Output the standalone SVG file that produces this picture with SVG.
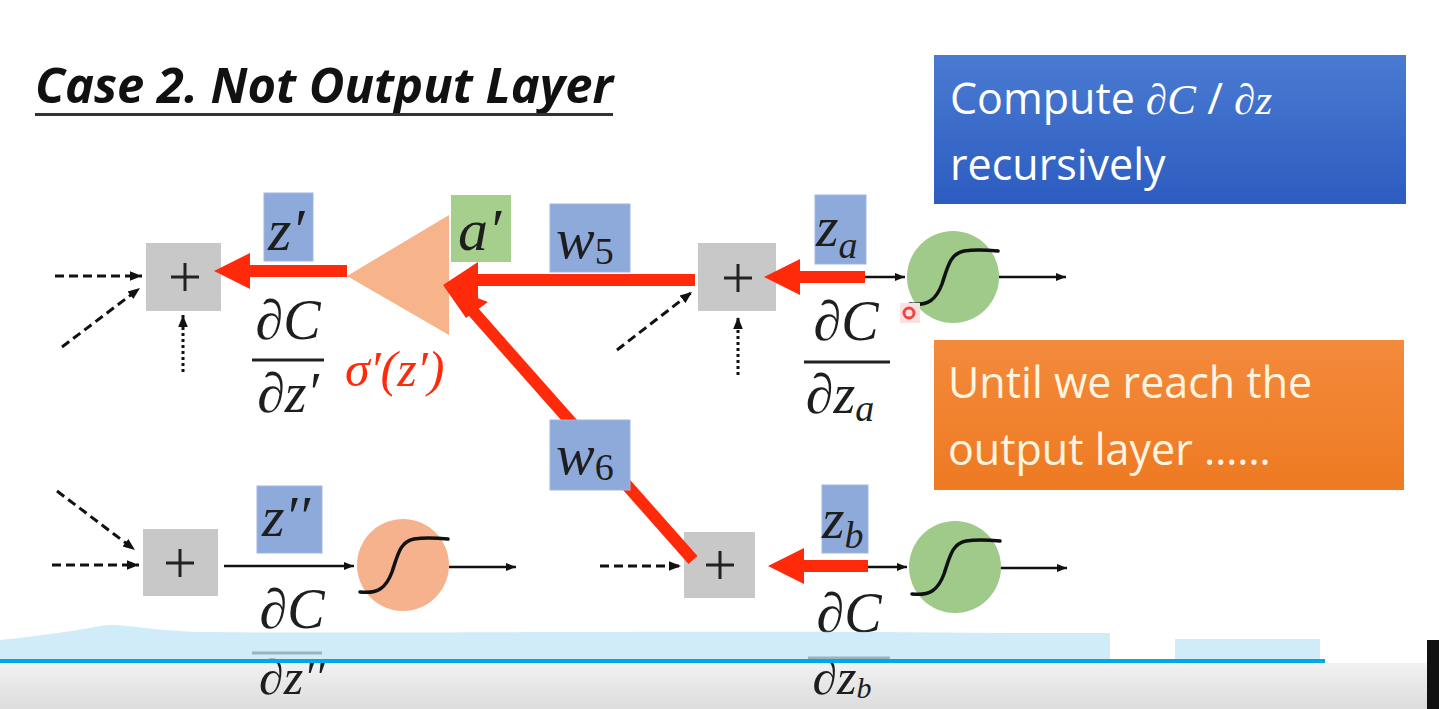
<svg xmlns="http://www.w3.org/2000/svg" width="1439" height="709" viewBox="0 0 1439 709">
<style>
.plus{fill:#c8c8c8}
.pl{stroke:#222;stroke-width:3;fill:none}
.lb{fill:#8eaadb;stroke:#9fb6e0;stroke-width:1}
.lg{fill:#a6cf8d}
.m{font-family:"Liberation Serif","DejaVu Serif",serif;font-style:italic;fill:#1e1e1e}
.s{font-family:"Liberation Serif","DejaVu Serif",serif;fill:#1e1e1e}
.dash{stroke:#111;stroke-width:3;stroke-dasharray:9 5;fill:none}
.dot{stroke:#111;stroke-width:3;stroke-dasharray:3 3;fill:none}
.blk{stroke:#111;stroke-width:2.5;fill:none}
.red{stroke:#ff2a0a;stroke-width:12;fill:none}
.sig{stroke:#111;stroke-width:3.5;fill:none;stroke-linecap:round}
.bt{font-family:"Open Sans","Noto Sans","Liberation Sans",sans-serif;fill:#fff;font-size:43px}
.frac{stroke:#222;stroke-width:3}
</style>
<defs>
<marker id="ah" viewBox="0 0 10 10" refX="10" refY="5" markerWidth="4" markerHeight="4" orient="auto" markerUnits="strokeWidth"><path d="M0,1 L10,5 L0,9 Z" fill="#111"/></marker>
<linearGradient id="gb" x1="0" y1="0" x2="0" y2="1"><stop offset="0" stop-color="#4a7bd2"/><stop offset="1" stop-color="#2c5cc0"/></linearGradient>
<linearGradient id="go" x1="0" y1="0" x2="0" y2="1"><stop offset="0" stop-color="#f38a3c"/><stop offset="1" stop-color="#ee7a22"/></linearGradient>
<linearGradient id="gbar" x1="0" y1="0" x2="0" y2="1"><stop offset="0" stop-color="#f2f2f2"/><stop offset="1" stop-color="#dcdcdc"/></linearGradient>
</defs>
<rect width="1439" height="709" fill="#fff"/>

<g id="player">
<rect x="0" y="663" width="1427" height="46" fill="url(#gbar)"/>
<rect x="1427" y="640" width="12" height="69" fill="#111"/>
</g>

<g id="title">
<text x="35" y="103" font-family="Open Sans,Noto Sans,sans-serif" font-weight="bold" font-style="italic" font-size="48" fill="#111" textLength="578" lengthAdjust="spacingAndGlyphs">Case 2. Not Output Layer</text>
<rect x="35" y="113" width="578" height="3" fill="#333"/>
</g>

<g id="connectors">
<line class="dash" x1="55" y1="276" x2="142" y2="276" marker-end="url(#ah)"/>
<line class="dash" x1="62" y1="347" x2="140" y2="288" marker-end="url(#ah)"/>
<line class="dot" x1="183" y1="372" x2="183" y2="315" marker-end="url(#ah)"/>
<line class="dash" x1="617" y1="350" x2="692" y2="292" marker-end="url(#ah)"/>
<line class="dot" x1="738" y1="375" x2="738" y2="317" marker-end="url(#ah)"/>
<line class="blk" x1="862" y1="277" x2="905" y2="277" marker-end="url(#ah)"/>
<line class="blk" x1="999" y1="277" x2="1066" y2="277" marker-end="url(#ah)"/>
<line class="dash" x1="52" y1="565" x2="139" y2="565" marker-end="url(#ah)"/>
<line class="dash" x1="57" y1="491" x2="135" y2="550" marker-end="url(#ah)"/>
<line class="blk" x1="224" y1="566" x2="354" y2="566" marker-end="url(#ah)"/>
<line class="blk" x1="449" y1="567" x2="516" y2="567" marker-end="url(#ah)"/>
<line class="dash" x1="600" y1="566" x2="681" y2="566" marker-end="url(#ah)"/>
<line class="blk" x1="866" y1="567" x2="907" y2="567" marker-end="url(#ah)"/>
<line class="blk" x1="1000" y1="568" x2="1067" y2="568" marker-end="url(#ah)"/>
</g>

<g id="plus1"><rect class="plus" x="146" y="243" width="75" height="68"/><path class="pl" d="M171,277 H199 M185,263 V291"/></g>
<g id="plus2"><rect class="plus" x="698" y="243" width="78" height="68"/><path class="pl" d="M724,278 H752 M738,264 V292"/></g>
<g id="plus3"><rect class="plus" x="143" y="529" width="75" height="67"/><path class="pl" d="M166,563 H194 M180,549 V577"/></g>
<g id="plus4"><rect class="plus" x="684" y="532" width="71" height="66"/><path class="pl" d="M706,565 H734 M720,551 V579"/></g>

<g id="triangle"><polygon points="347,276 449,215 449,335" fill="#f7b48a"/></g>

<g id="neuronA"><circle cx="953" cy="277" r="46" fill="#9fca8a"/><path class="sig" d="M910,304 C928,306 936,300 942,284 C948,266 950,254 964,251 C976,249 988,250 998,251"/></g>
<g id="neuronB"><circle cx="955" cy="567" r="46" fill="#9fca8a"/><path class="sig" d="M912,594 C930,596 938,590 944,574 C950,556 952,544 966,541 C978,539 990,540 1000,541"/></g>
<g id="neuronZ2"><circle cx="403" cy="565" r="46" fill="#f6b28c"/><path class="sig" d="M360,592 C378,594 386,588 392,572 C398,554 400,542 414,539 C426,537 438,538 448,539"/></g>

<g id="redflow">
<line class="red" x1="347" y1="271" x2="245" y2="271"/>
<polygon points="214,271 250,253 250,289" fill="#ff2a0a"/>
<line class="red" x1="695" y1="280" x2="470" y2="280"/>
<line class="red" x1="693" y1="560" x2="470" y2="308"/>
<polygon points="443,285 478,262 478,300" fill="#ff2a0a"/>
<polygon points="443,285 466,318 488,302" fill="#ff2a0a"/>
<line class="red" x1="865" y1="277" x2="795" y2="277"/>
<polygon points="764,277 800,259 800,295" fill="#ff2a0a"/>
<line class="red" x1="868" y1="566" x2="800" y2="566"/>
<polygon points="768,566 804,548 804,584" fill="#ff2a0a"/>
</g>

<g id="label-z1"><rect class="lb" x="264" y="193" width="49" height="68"/><text class="m" x="268" y="250" font-size="60">z′</text></g>
<g id="label-a1"><rect class="lg" x="451" y="195" width="60" height="67"/><text class="m" x="458" y="250" font-size="60">a′</text></g>
<g id="label-w5"><rect class="lb" x="550" y="204" width="80" height="68"/><text class="m" x="556" y="258" font-size="58">w<tspan font-style="normal" font-size="38" dy="6">5</tspan></text></g>
<g id="label-w6"><rect class="lb" x="550" y="420" width="80" height="70"/><text class="m" x="556" y="474" font-size="58">w<tspan font-style="normal" font-size="38" dy="6">6</tspan></text></g>
<g id="label-za"><rect class="lb" x="815" y="195" width="51" height="69"/><text class="m" x="816" y="246" font-size="58">z<tspan font-size="38" dy="12">a</tspan></text></g>
<g id="label-zb"><rect class="lb" x="822" y="485" width="46" height="68"/><text class="m" x="822" y="538" font-size="58">z<tspan font-size="38" dy="10">b</tspan></text></g>
<g id="label-z2"><rect class="lb" x="257" y="486" width="65" height="67"/><text class="m" x="262" y="536" font-size="58">z′′</text></g>

<g id="frac1"><text class="m" x="288" y="339" font-size="56" text-anchor="middle">∂C</text><line class="frac" x1="252" y1="360" x2="324" y2="360"/><text class="m" x="288" y="412" font-size="56" text-anchor="middle">∂z′</text></g>
<g id="sigma"><text class="m" x="345" y="386" font-size="50" style="fill:#ff2a0a">σ′(z′)</text></g>
<g id="frac2"><text class="m" x="846" y="340" font-size="56" text-anchor="middle">∂C</text><line class="frac" x1="804" y1="362" x2="890" y2="362"/><text class="m" x="840" y="413" font-size="56" text-anchor="middle">∂z<tspan font-size="38" dy="8">a</tspan></text></g>
<g id="frac3"><text class="m" x="292" y="628" font-size="56" text-anchor="middle">∂C</text><line class="frac" x1="252" y1="653" x2="322" y2="653"/><text class="m" x="292" y="694" font-size="50" text-anchor="middle">∂z′′</text></g>
<g id="frac4"><text class="m" x="849" y="632" font-size="56" text-anchor="middle">∂C</text><line class="frac" x1="808" y1="658" x2="890" y2="658"/><text class="m" x="842" y="694" font-size="50" text-anchor="middle">∂z<tspan font-size="30" dy="4">b</tspan></text></g>

<g id="cursor"><rect x="900" y="303" width="20" height="20" fill="#fbe0e0"/><circle cx="909" cy="313" r="5" fill="none" stroke="#ee4444" stroke-width="3"/></g>

<g id="box-compute"><rect x="934" y="55" width="472" height="149" fill="url(#gb)"/><text class="bt" x="950" y="114">Compute <tspan font-family="Liberation Serif,DejaVu Serif,serif" font-style="italic">∂C</tspan> / <tspan font-family="Liberation Serif,DejaVu Serif,serif" font-style="italic">∂z</tspan></text><text class="bt" x="950" y="180">recursively</text></g>
<g id="box-until"><rect x="934" y="340" width="470" height="150" fill="url(#go)"/><text class="bt" x="948" y="398" style="fill:#fff5e0">Until we reach the</text><text class="bt" x="948" y="465" style="fill:#fff5e0">output layer ……</text></g>

<g id="overlay">
<path d="M0,640 C40,636 80,630 100,626 C120,622 140,630 200,632 C400,634 700,630 1000,633 L1110,633 L1110,659 L0,659 Z" fill="#bfe5f5" opacity="0.75"/>
<rect x="1175" y="639" width="145" height="20" fill="#bfe5f5" opacity="0.75"/>
<rect x="0" y="659" width="1325" height="4" fill="#00a8e8"/>
</g>
</svg>
